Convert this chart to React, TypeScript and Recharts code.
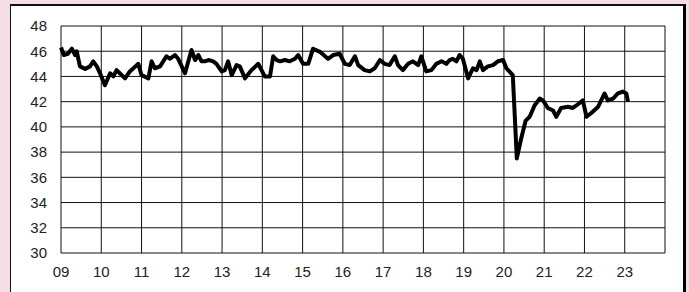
import { LineChart, Line, XAxis, YAxis, CartesianGrid } from "recharts";

// decimal years
const years = [
  2009.0, 2009.07, 2009.17, 2009.27, 2009.35, 2009.39, 2009.47, 2009.6, 2009.72, 2009.8,
  2009.89, 2009.97, 2010.09, 2010.22, 2010.3, 2010.38, 2010.46, 2010.59, 2010.71, 2010.92,
  2011.0, 2011.17, 2011.25, 2011.33, 2011.46, 2011.62, 2011.7, 2011.83, 2011.91, 2012.08,
  2012.24, 2012.33, 2012.41, 2012.49, 2012.57, 2012.66, 2012.78, 2012.86, 2012.99, 2013.07,
  2013.15, 2013.24, 2013.36, 2013.44, 2013.57, 2013.73, 2013.9, 2014.06, 2014.19, 2014.27,
  2014.36, 2014.44, 2014.56, 2014.68, 2014.81, 2014.89, 2015.01, 2015.14, 2015.26, 2015.43,
  2015.63, 2015.76, 2015.92, 2016.05, 2016.17, 2016.3, 2016.38, 2016.54, 2016.67, 2016.79,
  2016.92, 2017.04, 2017.16, 2017.29, 2017.37, 2017.49, 2017.62, 2017.74, 2017.87, 2017.95,
  2018.07, 2018.2, 2018.32, 2018.45, 2018.57, 2018.65, 2018.73, 2018.82, 2018.9, 2018.98,
  2019.11, 2019.23, 2019.32, 2019.4, 2019.48, 2019.6, 2019.73, 2019.85, 2019.98, 2020.06,
  2020.22, 2020.32, 2020.43, 2020.54, 2020.64, 2020.76, 2020.89, 2020.97, 2021.09, 2021.22,
  2021.3, 2021.42, 2021.59, 2021.71, 2021.8, 2021.96, 2022.05, 2022.17, 2022.34, 2022.5,
  2022.58, 2022.71, 2022.83, 2022.95, 2023.04, 2023.08,
];

const values = [
  46.3, 45.7, 45.8, 46.2, 45.7, 46.0, 44.8, 44.6, 44.8, 45.2,
  44.8, 44.25, 43.3, 44.25, 44.0, 44.5, 44.25, 43.85, 44.4, 45.0,
  44.1, 43.85, 45.2, 44.65, 44.8, 45.6, 45.4, 45.7, 45.4, 44.25,
  46.1, 45.3, 45.7, 45.2, 45.2, 45.3, 45.2, 45.0, 44.4, 44.5,
  45.2, 44.1, 44.9, 44.8, 43.85, 44.5, 45.0, 44.0, 44.0, 45.6,
  45.3, 45.2, 45.3, 45.2, 45.4, 45.7, 45.0, 45.0, 46.2, 45.95,
  45.4, 45.7, 45.8, 45.0, 44.9, 45.6, 44.9, 44.5, 44.4, 44.65,
  45.3, 45.0, 44.9, 45.6, 44.9, 44.5, 45.0, 45.2, 44.9, 45.6,
  44.4, 44.5, 45.0, 45.2, 45.0, 45.3, 45.4, 45.2, 45.7, 45.4,
  43.85, 44.65, 44.5, 45.2, 44.5, 44.8, 44.9, 45.2, 45.3, 44.65,
  44.1, 37.5, 39.1, 40.5, 40.8, 41.7, 42.25, 42.1, 41.5, 41.3,
  40.8, 41.5, 41.6, 41.5, 41.7, 42.1, 40.8, 41.1, 41.6, 42.65,
  42.1, 42.25, 42.65, 42.8, 42.65, 42.0,
];

const xTicks = [2009, 2010, 2011, 2012, 2013, 2014, 2015, 2016, 2017, 2018, 2019, 2020, 2021, 2022, 2023, 2024];
const yTicks = [30, 32, 34, 36, 38, 40, 42, 44, 46, 48];

const data = years.map((t, i) => ({ t, v: values[i] }));

const fmtYear = (y: number) => (y >= 2024 ? "" : String(y % 100).padStart(2, "0"));

export default function App() {
  return (
    <div style={{ position: "relative", width: 689, height: 292, overflow: "hidden", background: "#f5dde6" }}>
      <style>{`body{margin:0}`}</style>
      <div
        style={{
          position: "absolute",
          left: 10,
          top: 4,
          width: 672,
          height: 300,
          background: "#fff",
          borderLeft: "1px solid #111",
          borderTop: "2px solid #111",
          borderRight: "3px solid #000",
        }}
      />
      <div style={{ position: "absolute", left: 0, top: 0 }}>
        <LineChart
          width={689}
          height={292}
          data={data}
          margin={{ top: 26, right: 24, bottom: 0, left: 10 }}
          style={{ fontFamily: "'Liberation Sans', Arial, sans-serif" }}
        >
          <CartesianGrid stroke="#111" strokeWidth={1} />
          <XAxis
            type="number"
            dataKey="t"
            domain={[2009, 2024]}
            ticks={xTicks}
            tickFormatter={fmtYear}
            interval={0}
            height={39}
            axisLine={false}
            tickLine={false}
            tickSize={0}
            tickMargin={13}
            tick={{ fontSize: 15, fill: "#222" }}
          />
          <YAxis
            domain={[30, 48]}
            ticks={yTicks}
            interval={0}
            width={51}
            axisLine={false}
            tickLine={false}
            tickSize={0}
            tickMargin={14}
            tick={{ fontSize: 15, fill: "#222" }}
          />
          <Line
            type="linear"
            dataKey="v"
            stroke="#000"
            strokeWidth={4}
            strokeLinejoin="round"
            dot={false}
            isAnimationActive={false}
          />
        </LineChart>
      </div>
    </div>
  );
}
